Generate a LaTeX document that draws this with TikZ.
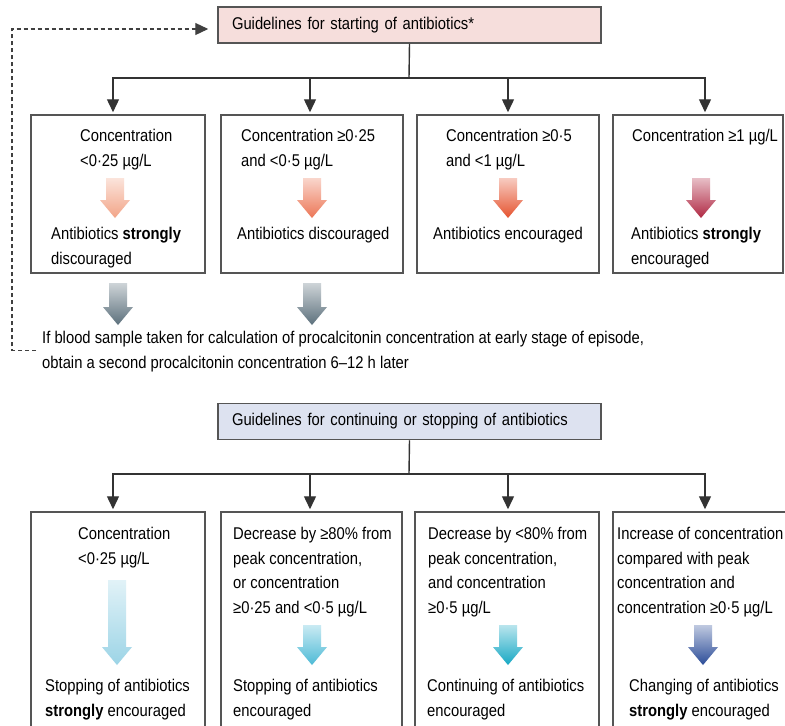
\documentclass[tikz,border=0pt]{standalone}
\usepackage{fontspec}
\setmainfont{Liberation Sans}[FakeStretch=0.87]
\usetikzlibrary{arrows.meta}
\definecolor{pinkbg}{HTML}{F6DEDC}
\definecolor{bluebg}{HTML}{DDE2F0}
\definecolor{framegray}{HTML}{555555}
\definecolor{ca1}{HTML}{F2A487}
\definecolor{ca2}{HTML}{EC7656}
\definecolor{ca3}{HTML}{E5532F}
\definecolor{ca4}{HTML}{B02843}
\definecolor{cg}{HTML}{5C707C}
\definecolor{cb1}{HTML}{9CD4E6}
\definecolor{cb2}{HTML}{4DBAD6}
\definecolor{cb3}{HTML}{16A8C4}
\definecolor{cb4}{HTML}{2B4C98}
% thick shaded arrow: (x)(y top:y tip){colour}
\def\fatarrow(#1)(#2:#3)#4{\shade[top color=#4!30, bottom color=#4] ({#1-9},#2) -- ({#1+9},#2) -- ({#1+9},{#3-18}) -- ({#1+15},{#3-18}) -- (#1,#3) -- ({#1-15},{#3-18}) -- ({#1-9},{#3-18}) -- cycle;}

\begin{document}
\begin{tikzpicture}[x=1pt, y=-1pt,
	box/.style={draw=framegray, line width=1.5pt, inner sep=0pt},
	head/.style={draw=framegray, line width=1.5pt, minimum height=36pt, text width=355pt, inner xsep=14pt, inner ysep=0pt, align=left, font=\fontsize{17}{20}\selectfont},
	txt/.style={anchor=north west, inner sep=0pt, align=left, font=\fontsize{17}{24.5}\selectfont, execute at begin node=\strut},
	link/.style={line width=1.4pt, draw=black!80},
	tip/.style={-{Triangle[width=12pt,length=13pt]}, shorten >=2pt},
	dashlink/.style={line width=1.2pt, draw=black!75, dash pattern=on 4pt off 3pt, -{Triangle[width=12pt,length=13pt]}, shorten >=9pt}]
			%%%%% START %%%%%
			\useasboundingbox (0,0) rectangle (785,726);
			\fill[white] (0,0) rectangle (785,726);
			\clip (0,0) rectangle (785,726);
			
			% starting of antibiotics
			\node[head, fill=pinkbg] (st) at (409.5,25) {Guidelines for starting of antibiotics*};
			
			\node[box, minimum width=174pt, minimum height=158pt] (s1) at (118,194) {};
			\node[box, minimum width=182pt, minimum height=158pt] (s2) at (312,194) {};
			\node[box, minimum width=182pt, minimum height=158pt] (s3) at (508,194) {};
			\node[box, minimum width=170pt, minimum height=158pt] (s4) at (698,194) {};
			
			\coordinate (sbus) at (409,78);
			\draw[link] (st.south) -- (sbus);
			\draw[link, tip] (sbus) -| ([xshift=-5pt]s1.north);
			\draw[link, tip] (sbus) -| ([xshift=-2pt]s2.north);
			\draw[link, tip] (sbus) -| (s3.north);
			\draw[link, tip] (sbus) -| ([xshift=7pt]s4.north);
			
			\node[txt] (s1a) at (80,129) {Concentration\\<0·25 µg/L};
			\node[txt] (s1b) at (51,227) {Antibiotics \textbf{strongly}\\discouraged};
			\node[txt] (s2a) at (241,129) {Concentration ≥0·25\\and <0·5 µg/L};
			\node[txt] (s2b) at (237,222) {Antibiotics discouraged};
			\node[txt] (s3a) at (446,129) {Concentration ≥0·5\\and <1 µg/L};
			\node[txt] (s3b) at (433,222) {Antibiotics encouraged};
			\node[txt] (s4a) at (632,124) {Concentration ≥1 µg/L};
			\node[txt] (s4b) at (631,227) {Antibiotics \textbf{strongly}\\encouraged};
			
			\fatarrow(115)(178:218){ca1}
			\fatarrow(312)(178:218){ca2}
			\fatarrow(508)(178:218){ca3}
			\fatarrow(701)(178:218){ca4}
			
			\fatarrow(118)(283:325){cg}
			\fatarrow(312)(283:325){cg}
			
			\node[txt] (note) at (42,331) {If blood sample taken for calculation of procalcitonin concentration at early stage of episode,\\obtain a second procalcitonin concentration 6–12 h later};
			\draw[dashlink] ([xshift=-6pt,yshift=3pt]note.west) -- ++(-24,0) |- ([yshift=-4pt]st.west);
			
			% continuing or stopping
			\node[head, fill=bluebg] (ct) at (409.5,421.5) {Guidelines for continuing or stopping of antibiotics};
			
			\node[box, minimum width=174pt, minimum height=240pt] (b1) at (118,632) {};
			\node[box, minimum width=181pt, minimum height=240pt] (b2) at (311.5,632) {};
			\node[box, minimum width=184pt, minimum height=240pt] (b3) at (507,632) {};
			\node[box, minimum width=180pt, minimum height=240pt] (b4) at (703,632) {};
			
			\coordinate (cbus) at (409,474);
			\draw[link] (ct.south) -- (cbus);
			\draw[link, tip] (cbus) -| ([xshift=-5pt]b1.north);
			\draw[link, tip] (cbus) -| ([xshift=-1.5pt]b2.north);
			\draw[link, tip] (cbus) -| ([xshift=1pt]b3.north);
			\draw[link, tip] (cbus) -| ([xshift=2pt]b4.north);
			
			\node[txt] (b1a) at (78,527) {Concentration\\<0·25 µg/L};
			\node[txt] (b1b) at (45,679) {Stopping of antibiotics\\\textbf{strongly} encouraged};
			\node[txt] (b2a) at (233,527) {Decrease by ≥80\% from\\peak concentration,\\or concentration\\≥0·25 and <0·5 µg/L};
			\node[txt] (b2b) at (233,679) {Stopping of antibiotics\\encouraged};
			\node[txt] (b3a) at (428,527) {Decrease by <80\% from\\peak concentration,\\and concentration\\≥0·5 µg/L};
			\node[txt] (b3b) at (427,679) {Continuing of antibiotics\\encouraged};
			\node[txt] (b4a) at (617,527) {Increase of concentration\\compared with peak\\concentration and\\concentration ≥0·5 µg/L};
			\node[txt] (b4b) at (629,679) {Changing of antibiotics\\\textbf{strongly} encouraged};
			
			\fatarrow(117)(580:665){cb1}
			\fatarrow(312)(625:665){cb2}
			\fatarrow(508)(625:665){cb3}
			\fatarrow(703)(625:665){cb4}
			%%%%% END %%%%%
\end{tikzpicture}
\end{document}
